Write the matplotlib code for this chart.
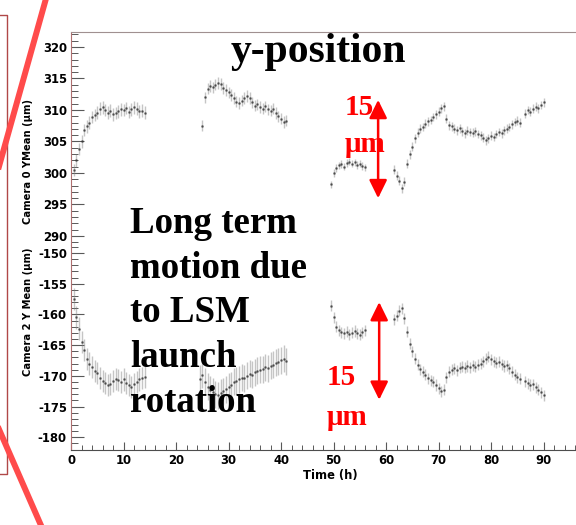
import matplotlib.pyplot as plt
from matplotlib.lines import Line2D
from matplotlib.ticker import MultipleLocator

W, H = 576, 525

# camera 0 (upper) and camera 2 (lower) y-mean per run segment, sampled every 0.5 h
cam0_t = [
    [0.5, 1.0, 1.5, 2.0, 2.5, 3.0, 3.5, 4.0, 4.5, 5.0, 5.5, 6.0, 6.5, 7.0,
     7.5, 8.0, 8.5, 9.0, 9.5, 10.0, 10.5, 11.0, 11.5, 12.0, 12.5, 13.0, 13.5, 14.0],
    [25.0, 25.5, 26.0, 26.5, 27.0, 27.5, 28.0, 28.5, 29.0, 29.5, 30.0, 30.5,
     31.0, 31.5, 32.0, 32.5, 33.0, 33.5, 34.0, 34.5, 35.0, 35.5, 36.0, 36.5,
     37.0, 37.5, 38.0, 38.5, 39.0, 39.5, 40.0, 40.5, 41.0],
    [49.5, 50.0, 50.5, 51.0, 51.5, 52.0, 52.5, 53.0, 53.5, 54.0, 54.5, 55.0, 55.5, 56.0],
    [61.5, 62.0, 62.5, 63.0, 63.5, 64.0, 64.5, 65.0, 65.5, 66.0, 66.5, 67.0,
     67.5, 68.0, 68.5, 69.0, 69.5, 70.0, 70.5, 71.0, 71.5, 72.0, 72.5, 73.0,
     73.5, 74.0, 74.5, 75.0, 75.5, 76.0, 76.5, 77.0, 77.5, 78.0, 78.5, 79.0,
     79.5, 80.0, 80.5, 81.0, 81.5, 82.0, 82.5, 83.0, 83.5, 84.0, 84.5, 85.0,
     85.5, 86.5, 87.0, 87.5, 88.0, 88.5, 89.0, 89.5, 90.0],
]
cam0_y = [
    [300.5, 302.0, 303.8, 305.0, 306.8, 307.4, 308.0, 308.9, 309.2, 309.6, 310.2,
     310.4, 310.0, 309.6, 309.9, 309.3, 309.5, 309.8, 310.1, 310.0, 310.3, 309.7,
     310.1, 310.4, 310.2, 309.8, 309.9, 309.6],
    [307.5, 312.0, 313.4, 313.8, 313.6, 314.0, 314.3, 314.1, 313.5, 313.2, 312.8,
     312.4, 311.9, 311.3, 311.1, 311.5, 311.9, 312.2, 311.9, 311.2, 310.7, 310.9,
     310.5, 310.2, 310.6, 310.1, 309.9, 310.2, 309.5, 309.0, 308.6, 308.1, 308.3],
    [298.2, 300.0, 300.8, 301.2, 301.4, 301.0, 301.6, 301.8, 301.5, 301.7, 301.3,
     301.5, 301.1, 300.9],
    [300.5, 299.6, 298.8, 297.6, 298.6, 301.5, 303.0, 304.2, 305.5, 306.4, 307.0,
     307.3, 307.8, 308.2, 308.4, 308.9, 309.3, 309.7, 310.3, 310.6, 308.6, 307.6,
     307.4, 307.0, 306.8, 307.1, 306.6, 306.3, 306.7, 306.5, 306.4, 306.6, 306.2,
     306.0, 305.6, 305.2, 305.5, 305.9, 305.7, 306.2, 306.5, 306.3, 306.8, 307.0,
     307.3, 307.7, 308.1, 308.3, 308.0, 309.4, 310.0, 309.7, 310.2, 310.5, 310.3,
     310.8, 311.2],
]
cam0_err = [1.0, 0.9, 0.6, 0.7]

cam2_t = [
    cam0_t[0],
    [24.5] + cam0_t[1],
    cam0_t[2],
    cam0_t[3],
]
cam2_y = [
    [-157.5, -160.5, -162.3, -164.5, -165.8, -167.2, -168.0, -168.6, -169.2, -169.6,
     -170.3, -170.8, -171.2, -171.5, -171.3, -170.9, -170.5, -170.7, -171.0, -170.6,
     -171.2, -171.5, -171.8, -171.4, -171.0, -170.6, -170.4, -170.2],
    [-170.5, -169.8, -171.0, -171.8, -172.3, -172.6, -173.0, -173.2, -172.8, -172.5,
     -172.2, -171.8, -171.5, -171.0, -170.8, -170.6, -170.3, -170.4, -170.0, -169.7,
     -169.8, -169.4, -169.2, -169.0, -168.9, -168.6, -168.8, -168.4, -168.2, -167.9,
     -167.7, -167.5, -167.2, -167.6],
    [-158.6, -160.5, -162.0, -162.6, -162.9, -163.1, -162.8, -163.2, -163.0, -162.7,
     -163.1, -163.3, -162.9, -162.6],
    [-160.8, -160.2, -159.4, -159.0, -160.6, -162.8, -164.8, -166.0, -167.2, -168.2,
     -168.9, -169.3, -169.8, -170.4, -170.7, -171.0, -171.5, -172.0, -172.5, -172.3,
     -170.2, -169.3, -169.0, -168.8, -169.1, -168.7, -168.5, -168.7, -168.4, -168.6,
     -168.3, -168.5, -168.2, -168.0, -167.6, -167.2, -166.9, -167.3, -167.6, -167.9,
     -167.7, -168.1, -168.4, -168.3, -168.8, -169.3, -169.8, -170.2, -170.5, -170.9,
     -171.2, -171.5, -171.4, -171.9, -172.3, -172.7, -173.2],
]
cam2_err = [1.8, 2.2, 0.9, 0.9]

# the two 15 um reference arrows: (time, low, high)
arrow0 = (58.5, 296.0, 311.6)
arrow2 = (58.7, -173.9, -158.0)

x_ticks = [0, 10, 20, 30, 40, 50, 60, 70, 80, 90]
cam0_ticks = [290, 295, 300, 305, 310, 315, 320]
cam2_ticks = [-180, -175, -170, -165, -160, -155, -150]


def fx(px):
    return px / W


def fy(py):
    return 1 - py / H


fig = plt.figure(figsize=(W / 100, H / 100), dpi=100)
ax0 = fig.add_axes([fx(71), fy(245), (575 - 71) / W, (245 - 32) / H])
ax2 = fig.add_axes([fx(71), fy(450), (575 - 71) / W, (450 - 245) / H], sharex=ax0)

frame_col = '#b07070'
for ax, ts, ys, errs in [(ax0, cam0_t, cam0_y, cam0_err), (ax2, cam2_t, cam2_y, cam2_err)]:
    for t, y, e in zip(ts, ys, errs):
        # light vertical spread plus a dark dot for each sample
        ax.errorbar(t, y, yerr=e, fmt='none', ecolor='0.5', elinewidth=1.0,
                    alpha=0.45, capsize=0)
        ax.plot(t, y, ls='none', marker='.', ms=1.9, color='0.2', alpha=0.6)
    ax.spines['right'].set_visible(False)
    ax.spines['left'].set_color(frame_col)
    ax.yaxis.set_major_locator(MultipleLocator(5))
    ax.yaxis.set_minor_locator(MultipleLocator(1))
    ax.tick_params(axis='y', which='major', direction='in', length=9, width=0.8,
                   color='0.35', pad=3, labelsize=8.4)
    ax.tick_params(axis='y', which='minor', direction='in', length=5, width=0.7,
                   color='0.35')

ax0.spines['bottom'].set_visible(False)
ax0.spines['top'].set_color('#a09090')
ax0.set_ylim(288.57, 322.38)
ax0.set_yticks(cam0_ticks)
ax0.set_yticklabels([str(v) for v in cam0_ticks], fontweight='bold')
ax0.tick_params(axis='x', which='both', bottom=False, labelbottom=False)

ax2.spines['top'].set_visible(False)
ax2.spines['bottom'].set_color('0.3')
ax2.set_ylim(-182.08, -148.7)
ax2.set_yticks(cam2_ticks)
ax2.set_yticklabels([str(v) for v in cam2_ticks], fontweight='bold')
ax2.set_xlim(0, 96)
ax2.set_xticks(x_ticks)
ax2.set_xticklabels([str(v) for v in x_ticks], fontweight='bold')
ax2.xaxis.set_minor_locator(MultipleLocator(2))
ax2.tick_params(axis='x', which='major', direction='in', length=6, width=0.8,
                color='0.35', pad=3, labelsize=8.4)
ax2.tick_params(axis='x', which='minor', direction='in', length=3.5, width=0.7,
                color='0.35')

fig.text(fx(28), fy(162), 'Camera 0 YMean (\u03bcm)', rotation=90, ha='center',
         va='center', fontsize=7.2, fontweight='bold')
fig.text(fx(28), fy(312), 'Camera 2 Y Mean (\u03bcm)', rotation=90, ha='center',
         va='center', fontsize=7.2, fontweight='bold')
fig.text(fx(330), fy(475), 'Time (h)', ha='center', va='center', fontsize=8.3,
         fontweight='bold')

serif = 'Liberation Serif'
fig.text(fx(318), fy(52), 'y-position', ha='center', va='center', fontsize=30,
         fontweight='bold', family=serif)
for i, line in enumerate(['Long term', 'motion due', 'to LSM', 'launch', 'rotation']):
    fig.text(fx(130), fy(233 + 44.7 * i), line, ha='left', va='baseline',
             fontsize=26.6, fontweight='bold', family=serif)

red = '#ff0000'
for ax, (t, lo, hi) in [(ax0, arrow0), (ax2, arrow2)]:
    ax.annotate('', xy=(t, hi), xytext=(t, lo),
                arrowprops=dict(arrowstyle='<|-|>,head_length=0.55,head_width=0.27',
                                mutation_scale=20, color=red, lw=1.8,
                                shrinkA=0, shrinkB=0))
fig.text(fx(345), fy(115), '15', color=red, fontsize=21, fontweight='bold',
         family=serif, va='baseline')
fig.text(fx(345), fy(152), '\u03bcm', color=red, fontsize=21, fontweight='bold',
         family=serif, va='baseline')
fig.text(fx(327), fy(385), '15', color=red, fontsize=21, fontweight='bold',
         family=serif, va='baseline')
fig.text(fx(327), fy(425), '\u03bcm', color=red, fontsize=21, fontweight='bold',
         family=serif, va='baseline')

# slide decorations: side box and the red slash strokes
fig.add_artist(Line2D([fx(0), fx(7), fx(7), fx(0)], [fy(15), fy(15), fy(474), fy(474)],
                      color='#b04848', lw=1.0))
fig.add_artist(Line2D([fx(47), fx(-2)], [fy(-5), fy(170)], color='#ff4b4b', lw=4.3,
                      zorder=10))
fig.add_artist(Line2D([fx(-2), fx(43)], [fy(427), fy(530)], color='#ff4b4b', lw=4.3,
                      zorder=10))

fig.savefig('out.png', dpi=100)
